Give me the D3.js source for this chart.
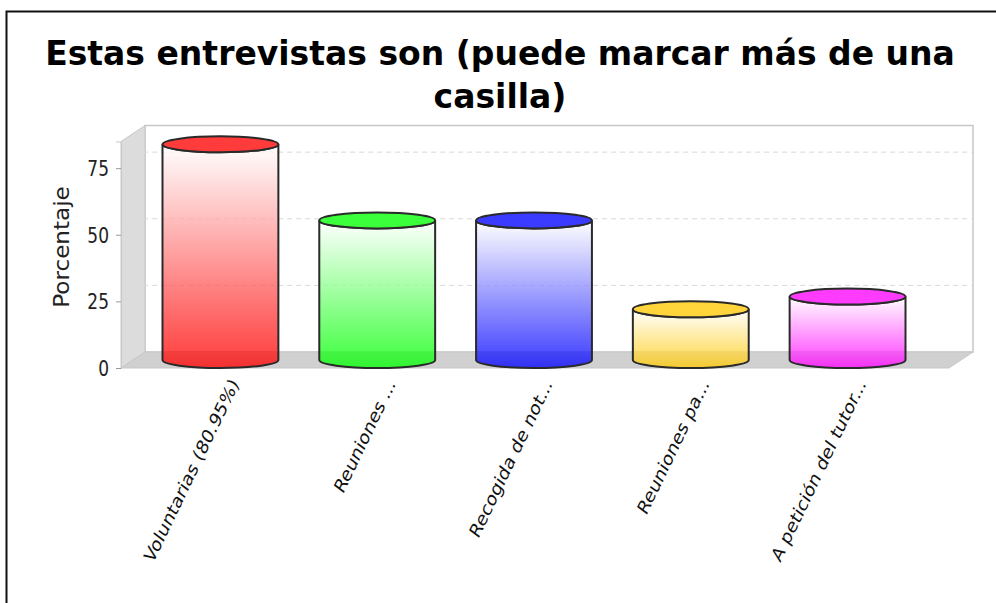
<!DOCTYPE html>
<html><head><meta charset="utf-8">
<script src="https://cdn.jsdelivr.net/npm/d3@7"></script>
<style>html,body{margin:0;padding:0;background:#fff;overflow:hidden}svg{display:block}</style>
</head><body><svg id="c" width="996" height="603"></svg>
<script>
const titleLines = ["Estas entrevistas son (puede marcar más de una", "casilla)"];
const yAxisLabel = "Porcentaje";
const categories = ["Voluntarias (80.95%)", "Reuniones ...", "Recogida de not...", "Reuniones pa...", "A petición del tutor..."];
const values = [80.95, 52.38, 52.38, 19.05, 23.81];
const colors = ["#ff0000", "#00ff00", "#0000ff", "#ffc800", "#ff00ff"];
const yTicks = [0, 25, 50, 75];

const svg = d3.select("#c");
const frontL = 121, frontR = 949, dx = 24, dy = 16;
const y = d3.scaleLinear().domain([0, 85]).range([368, 141.5]);
const x = d3.scaleBand().domain(categories).range([162.5, 905.5]).paddingInner(0.261).paddingOuter(0);
const poly = p => "M" + p.map(d => d.join(",")).join("L") + "Z";
const y0 = y(0), yT = y(85);

// frame
svg.append("path").attr("d", `M6.5,603V11.5H996`).attr("fill", "none").attr("stroke", "#111").attr("stroke-width", 2);

// title
svg.append("g").selectAll("text").data(titleLines).join("text")
  .attr("x", 500).attr("y", (d, i) => 65 + i * 43)
  .attr("text-anchor", "middle").attr("font-family", "DejaVu Sans").attr("font-weight", "bold")
  .attr("font-size", 33).attr("fill", "#000").text(d => d);

// 3D walls
svg.append("path").attr("d", poly([[frontL + dx, yT - dy], [frontR + dx, yT - dy], [frontR + dx, y0 - dy], [frontL + dx, y0 - dy]]))
  .attr("fill", "#fff").attr("stroke", "#c8c8c8").attr("stroke-width", 1.5);
svg.append("path").attr("d", poly([[frontL, yT], [frontL + dx, yT - dy], [frontL + dx, y0 - dy], [frontL, y0]]))
  .attr("fill", "#dcdcdc").attr("stroke", "#c8c8c8");
svg.append("path").attr("d", poly([[frontL, y0], [frontL + dx, y0 - dy], [frontR + dx, y0 - dy], [frontR, y0]]))
  .attr("fill", "#d0d0d0").attr("stroke", "#c8c8c8");

// gridlines
const grid = yTicks.filter(d => d > 0);
svg.append("g").selectAll("path").data(grid).join("path")
  .attr("d", d => `M${frontL},${y(d)}L${frontL + dx},${y(d) - dy}H${frontR + dx}`)
  .attr("fill", "none").attr("stroke", "#d8d8d8").attr("stroke-dasharray", "5,4");

// defs
const defs = svg.append("defs");
categories.forEach((c, i) => {
  const g = defs.append("linearGradient").attr("id", "g" + i).attr("x1", 0).attr("x2", 0).attr("y1", 0).attr("y2", 1);
  g.append("stop").attr("offset", "0%").attr("stop-color", "#fff");
  g.append("stop").attr("offset", "100%").attr("stop-color", colors[i]);
});

// cylinders
const ry = 8;
const bars = svg.append("g").selectAll("g").data(categories).join("g");
bars.each(function (c, i) {
  const g = d3.select(this), l = x(c), w = x.bandwidth(), rx = w / 2;
  const top = y(values[i]) - dy / 2, bot = y0 - dy / 2;
  const body = `M${l},${top}V${bot}A${rx},${ry} 0 0 0 ${l + w},${bot}V${top}A${rx},${ry} 0 0 1 ${l},${top}Z`;
  g.append("path").attr("d", body).attr("fill", `url(#g${i})`).attr("fill-opacity", 0.77).attr("stroke", "#2a2a2a").attr("stroke-width", 2);
  g.append("ellipse").attr("cx", l + rx).attr("cy", top).attr("rx", rx).attr("ry", ry)
    .attr("fill", "#fff").attr("stroke", "none");
  g.append("ellipse").attr("cx", l + rx).attr("cy", top).attr("rx", rx).attr("ry", ry)
    .attr("fill", colors[i]).attr("fill-opacity", 0.77).attr("stroke", "#2a2a2a").attr("stroke-width", 2);
});

// y axis
const stretch = 1.25;
const axis = d3.axisLeft(y).tickValues(yTicks).tickSize(5).tickPadding(0).tickFormat(d3.format("d"));
const ag = svg.append("g").attr("transform", `translate(${frontL},0)`).call(axis);
ag.select(".domain").attr("stroke", "#c8c8c8");
ag.selectAll(".tick line").attr("stroke", "#999");
ag.selectAll("text")
  .attr("x", -12).attr("y", 0).attr("dy", null)
  .attr("transform", `scale(1,${stretch}) translate(0,6)`)
  .attr("font-family", "DejaVu Sans").attr("font-size", 17).attr("fill", "#222");

svg.append("text").attr("transform", "translate(69,247) scale(1,1.1) rotate(-90)").attr("text-anchor", "middle")
  .attr("font-family", "DejaVu Sans").attr("font-size", 21).attr("fill", "#222").text(yAxisLabel);

// x labels
svg.append("g").selectAll("text").data(categories).join("text")
  .attr("transform", d => `translate(${x(d) + x.bandwidth() / 2 + 19},384) scale(1,${stretch}) rotate(-59)`)
  .attr("text-anchor", "end").attr("font-family", "DejaVu Sans")
  .attr("font-size", 16).attr("fill", "#111").text(d => d);
</script></body></html>
